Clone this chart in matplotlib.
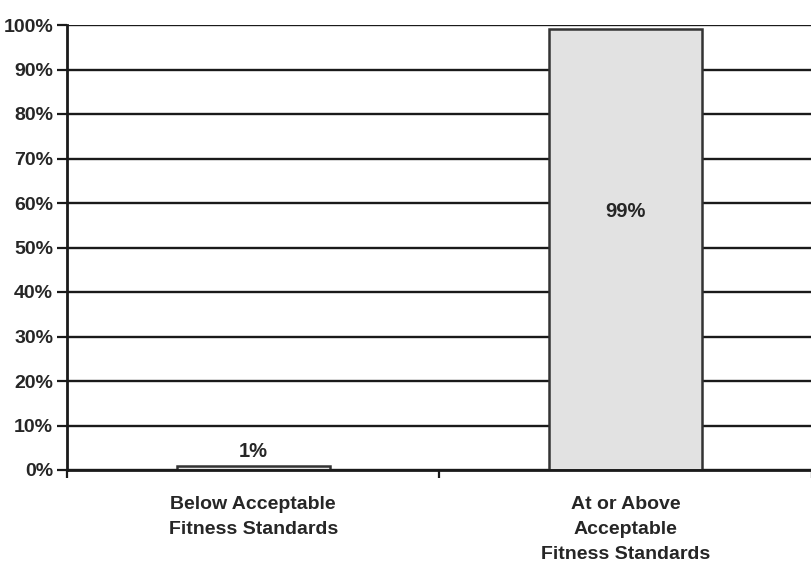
import matplotlib
matplotlib.use("Agg")
import matplotlib.pyplot as plt
from matplotlib.ticker import PercentFormatter

categories = ["Below Acceptable\nFitness Standards",
              "At or Above\nAcceptable\nFitness Standards"]
values = [1, 99]
value_labels = ["1%", "99%"]
yticks = [0, 10, 20, 30, 40, 50, 60, 70, 80, 90, 100]

plt.rcParams['font.family'] = ['Liberation Sans', 'DejaVu Sans']
plt.rcParams['font.weight'] = 'bold'

fig = plt.figure(figsize=(8.12, 5.71), dpi=100)
ax = fig.add_axes([67 / 812, 1 - 470 / 571, 745 / 812, 445 / 571])

txt = "#262626"
x = range(len(categories))
ax.set_axisbelow(True)
for y in yticks:
    ax.axhline(y, color="#1a1a1a", lw=1.7, zorder=0)

bars = ax.bar(x, values, width=0.41, color="#e2e2e2", edgecolor="#333333",
              linewidth=1.8, zorder=2)

# value labels: small bar labelled above, tall bar labelled inside
ax.text(0, values[0] + 1.0, value_labels[0], ha="center", va="bottom",
        fontsize=14.5, fontweight="bold", color=txt)
ax.text(1, 58, value_labels[1], ha="center", va="center",
        fontsize=14.5, fontweight="bold", color=txt)

ax.set_xlim(-0.5, 1.5)
ax.set_ylim(0, 100)
ax.set_yticks(yticks)
ax.yaxis.set_major_formatter(PercentFormatter(decimals=0))
ax.set_xticks(list(x))
ax.set_xticklabels(categories, fontsize=14, fontweight="bold", color=txt,
                   linespacing=1.6)
ax.tick_params(axis="x", length=0, pad=19)
ax.set_xticks([-0.5, 0.5, 1.5], minor=True)
ax.tick_params(axis="x", which="minor", length=6, width=1.6, color="#1a1a1a")
ax.tick_params(axis="y", length=7, width=1.6, color="#1a1a1a",
               labelsize=14, labelcolor=txt, pad=3)
for lab in ax.get_yticklabels():
    lab.set_fontweight("bold")

for side in ("top", "right"):
    ax.spines[side].set_visible(False)
for side in ("left", "bottom"):
    ax.spines[side].set_color("#1a1a1a")
    ax.spines[side].set_linewidth(2.0)

fig.savefig("out.png", dpi=100, facecolor="white")
